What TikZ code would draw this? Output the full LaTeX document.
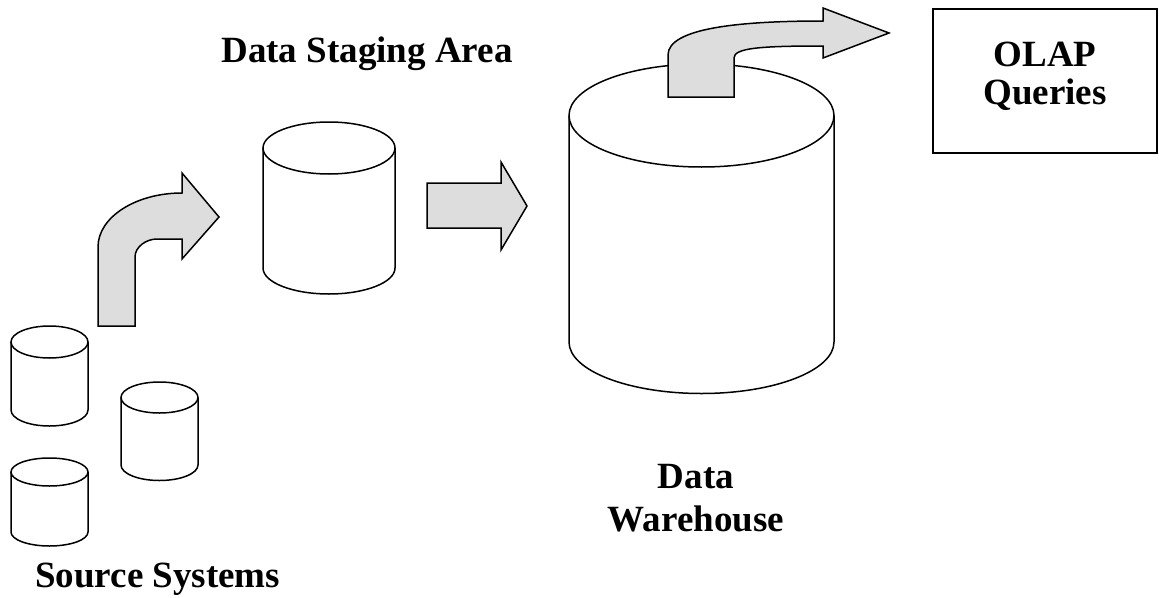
\documentclass[tikz,border=0pt]{standalone}
\usepackage{fontspec}
\setmainfont{Liberation Serif}
\usepackage{xcolor}
\usepackage{tikz}

\definecolor{arrowfill}{RGB}{221,221,221}

\begin{document}
\begin{tikzpicture}[
    x=1pt, y=-1pt,
    pics/dbcyl/.style args={#1/#2/#3}{code={
        \draw[line width=1.5pt] (0,0) ellipse[x radius=#1, y radius=#2];
        \draw[line width=1.5pt] (-#1,0) -- (-#1,#3)
            arc[start angle=180, end angle=0, x radius=#1, y radius=#2]
            -- (#1,0);
    }},
    blockarrow/.style={draw, fill=arrowfill, line width=1.5pt, line join=miter},
    caption/.style={font=\fontsize{37}{43}\selectfont\bfseries,
                    inner sep=0pt, align=center},
]
    \useasboundingbox (0,0) rectangle (1159,597);

    % Source systems
    \pic (src1) at (49.5,342) {dbcyl={38.5/16/68}};
    \pic (src2) at (159.5,397.5) {dbcyl={38.5/15.5/67.5}};
    \pic (src3) at (49.5,472) {dbcyl={38.5/14/60}};
    \node[caption, anchor=base west] (srclabel) at (35,587) {Source Systems};

    % Staging area
    \pic (stage) at (329,148) {dbcyl={66/26/120}};
    \node[caption, anchor=base] (stagelabel) at (367,62) {Data Staging Area};

    % Warehouse
    \pic (dw) at (701.5,115.5) {dbcyl={132.5/51.5/226.5}};
    \node[caption, anchor=north] (dwlabel) at (696,464) {Data\\Warehouse};

    % OLAP
    \node[caption, draw, line width=1.5pt, minimum width=224pt,
          minimum height=144pt, text depth=16pt,
          font=\fontsize{37}{38}\selectfont\bfseries]
          (olap) at (1045,81) {OLAP\\Queries};

    % Flow arrows
    \draw[blockarrow] (98,326) -- (98,247)
        .. controls (98,217) and (136,193) .. (182,193)
        -- (182,173) -- (219,217) -- (182,259) -- (182,239) -- (157,239)
        .. controls (146,239) and (135,247) .. (135,257)
        -- (135,326) -- cycle;
    \draw[blockarrow] (427,183) -- (501,183) -- (501,162) -- (527,206)
        -- (501,250) -- (501,228) -- (427,228) -- cycle;
    \draw[blockarrow] (668,97) -- (668,55)
        .. controls (668,28) and (740,21) .. (823,21)
        -- (823,8) -- (889,33) -- (823,58) -- (823,46)
        .. controls (760,46) and (734,48) .. (734,58)
        -- (734,97) -- cycle;
\end{tikzpicture}
\end{document}
